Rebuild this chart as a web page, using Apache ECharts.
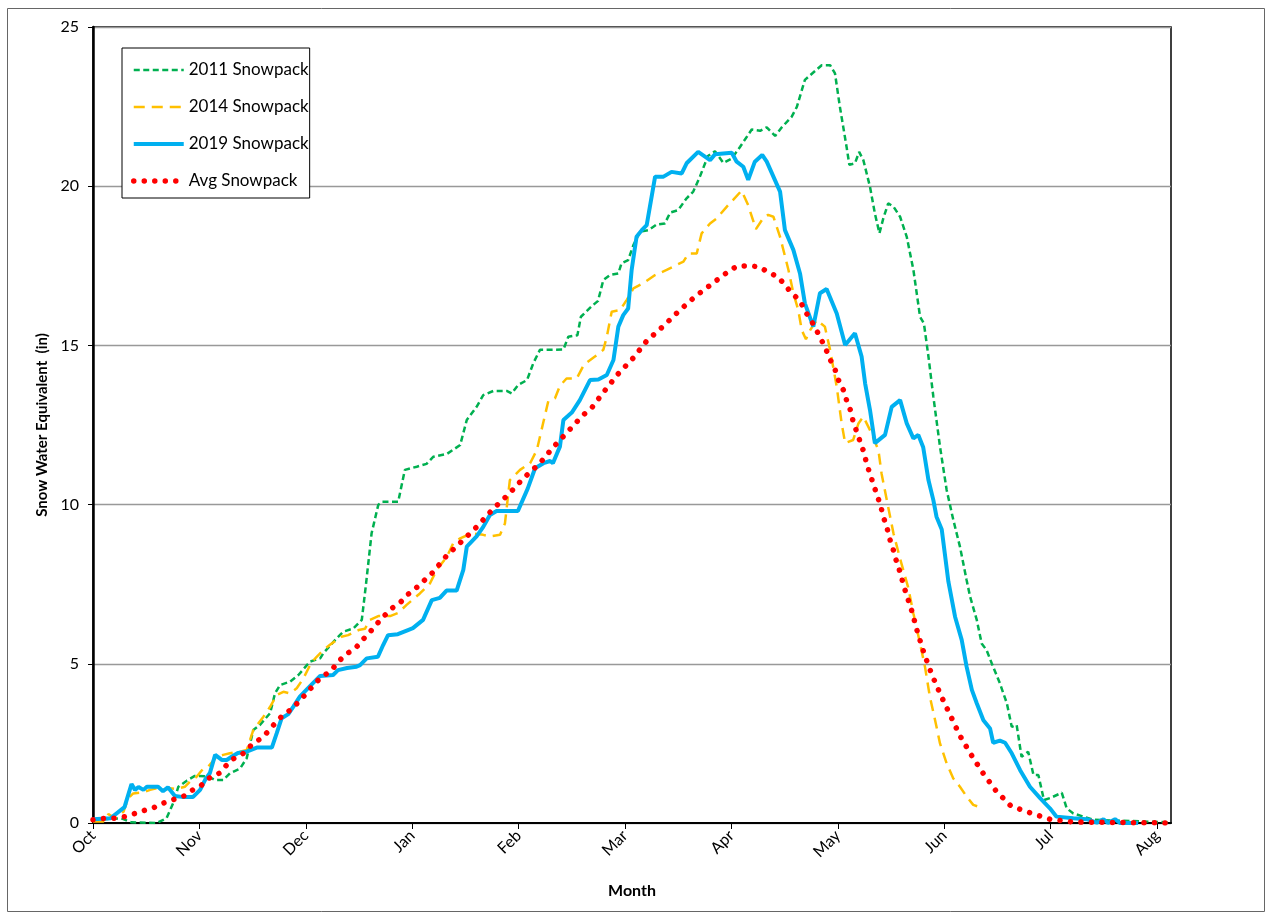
<!DOCTYPE html>
<html>
<head>
<meta charset="utf-8">
<script src="https://cdn.jsdelivr.net/npm/echarts@6/dist/echarts.min.js"></script>
<style>
  html, body { margin: 0; padding: 0; background: #fff; }
  #chart { width: 1266px; height: 915px; }
</style>
</head>
<body>
<div id="chart"></div>
<script>
// x = days since Oct 1, y = snow water equivalent (in)
const monthLabels = ['Oct', 'Nov', 'Dec', 'Jan', 'Feb', 'Mar', 'Apr', 'May', 'Jun', 'Jul', 'Aug']
const MONTH_DAYS = 30.4

const snow2011 = [
  [0,0.1],[8,0.15],[11,0.02],[18.2,0],[21,0.15],[22.9,0.62],[24.4,1.14],[26.8,1.33],[29.1,1.48],
  [32.9,1.46],[34.9,1.35],[37.2,1.35],[39.1,1.56],[42,1.71],[43.9,2.03],[45.8,2.92],[47.7,3.08],
  [50.6,3.45],[52,4.07],[53.4,4.33],[56.3,4.44],[58.7,4.65],[62,5.07],[64.9,5.17],[65.8,5.33],
  [69.6,5.8],[71.5,6.01],[74.4,6.11],[76.8,6.38],[78,7.5],[79.6,9.1],[81.5,9.99],[82.5,10.09],
  [87.2,10.09],[89.1,11.09],[92.5,11.19],[95.3,11.28],[97.2,11.5],[101.1,11.59],[104.9,11.87],
  [106.8,12.66],[109.6,13.07],[111.5,13.44],[114.4,13.57],[118.2,13.57],[119.6,13.49],[121.5,13.76],
  [124,13.91],[125.8,14.44],[127.7,14.86],[134.4,14.87],[135.8,15.27],[138.4,15.32],[139.4,15.9],
  [142.4,16.22],[144.3,16.4],[145.8,17.05],[147.7,17.21],[150.1,17.26],[151,17.58],[152.9,17.68],
  [154.4,18.15],[156.3,18.57],[158.7,18.62],[161.1,18.8],[163.4,18.83],[164.9,19.17],[167.2,19.25],
  [169.6,19.62],[171.5,19.83],[173.4,20.3],[175.7,20.95],[177.7,21.1],[180.1,20.73],[182.5,20.87],
  [184.9,21.24],[188.2,21.78],[190.6,21.74],[192.5,21.85],[194.9,21.58],[196.8,21.85],[199.6,22.18],
  [201.1,22.49],[203.4,23.34],[205.8,23.57],[208.2,23.8],[210.6,23.8],[212,23.54],[213.4,22.49],
  [215.3,21.24],[216.1,20.67],[217.7,20.72],[218.9,21.08],[220.1,20.82],[222,19.98],[223.4,19.14],
  [224.7,18.52],[225.8,18.99],[227.2,19.46],[228.7,19.36],[230.6,19.04],[232.5,18.41],[234.4,17.37],
  [236.3,15.9],[237.4,15.69],[238.7,14.65],[240.1,13.39],[242,11.82],[243.9,10.46],[245.8,9.52],
  [247.7,8.68],[249.6,7.63],[250.6,7.11],[252.5,6.38],[253.9,5.64],[255.3,5.43],[256.8,5.01],
  [259.1,4.39],[261.1,3.76],[262.5,3.02],[263.9,3.08],[265.3,2.08],[267.2,2.24],[268.7,1.51],
  [270.1,1.51],[271.7,0.72],[273.4,0.78],[276.8,0.95],[278.2,0.46],[280.1,0.3],[283,0.2],
  [285.8,0.1],[308,0.02]
]

const snow2014 = [
  [0,0.05],[3,0.05],[4.4,0.28],[6.3,0.15],[8.7,0.35],[10.1,0.78],[11.5,0.93],[14.4,0.96],[16.3,1.04],
  [18.2,1.09],[20.6,1.04],[22,1.09],[23.9,1.07],[26.3,1.14],[27.7,1.3],[29.6,1.45],[31.5,1.71],
  [32.9,1.77],[35.3,2.08],[37.2,2.14],[39.1,2.19],[42,2.24],[43.9,2.29],[45.8,2.92],[48.7,3.34],
  [50.6,3.65],[52.5,4.02],[54.4,4.12],[56.3,4.07],[58.2,4.23],[60.1,4.54],[62.4,5.04],[63.9,5.22],
  [65.8,5.43],[67.7,5.6],[71,5.85],[72.9,5.9],[75.9,6.06],[77.7,6.1],[79.1,6.38],[81.5,6.5],
  [84.9,6.5],[87.2,6.6],[89.6,6.85],[93.4,7.21],[96.3,7.53],[98.2,7.95],[101.1,8.36],[102.9,8.78],
  [104.9,8.94],[108.2,9.1],[111.5,9.05],[113.4,9.0],[116.3,9.05],[117.7,9.41],[119.1,10.77],
  [122,11.09],[124.9,11.3],[126.8,11.71],[128.7,12.6],[130.1,13.26],[132,13.34],[133.4,13.73],
  [135.3,13.96],[138.2,13.96],[140.3,14.4],[143.4,14.65],[145.8,14.86],[146.8,15.27],[148.2,16.06],
  [150.6,16.11],[152.5,16.43],[154.4,16.79],[157.2,16.95],[160.6,17.21],[163.9,17.37],[166.8,17.53],
  [168.7,17.63],[170.1,17.89],[172.5,17.89],[173.9,18.52],[176.3,18.83],[178.2,18.99],[181.1,19.36],
  [182.9,19.57],[185.3,19.86],[187.2,19.4],[189.4,18.65],[191.5,19.0],[192.9,19.1],[194.4,19.04],
  [196.3,18.41],[198.7,17.37],[200.1,16.64],[201.5,16.11],[202.5,15.48],[203.7,15.19],[204.9,15.48],
  [206.8,15.8],[209.1,15.59],[210.6,14.86],[212.5,13.7],[213.9,12.55],[214.9,11.93],[217.2,12.03],
  [218.7,12.55],[220.1,12.76],[222,12.34],[224.4,11.71],[225.3,10.98],[226.8,10.14],[228.7,9.1],
  [230.6,8.3],[232.9,7.4],[234.4,6.58],[236.3,5.64],[237.7,4.91],[239.1,3.97],[240.6,3.23],
  [242,2.5],[243.9,1.87],[245.8,1.4],[247.7,1.14],[249.6,0.83],[251.5,0.57],[254.4,0.46]
]

const snow2019 = [
  [0,0.12],[5,0.15],[9,0.5],[11,1.22],[12,1.04],[13,1.13],[14.4,1.04],[15.4,1.14],[18.6,1.14],
  [20,1.0],[21.4,1.12],[23.4,0.85],[25.4,0.82],[28.6,0.82],[30.6,1.04],[32,1.35],[33.4,1.57],
  [34.9,2.14],[36.8,1.98],[38.2,1.98],[39.6,2.08],[41.4,2.2],[43.9,2.24],[46.8,2.37],[51.1,2.37],
  [52.5,2.82],[53.9,3.29],[55.8,3.42],[57.2,3.65],[59.1,3.97],[62,4.3],[64.9,4.62],[68.6,4.65],
  [70,4.8],[72.6,4.87],[75.3,4.91],[76.3,4.96],[78.2,5.17],[81.4,5.22],[82.9,5.59],[84.3,5.9],
  [87.1,5.93],[90,6.06],[91.4,6.12],[94.3,6.38],[96.8,7.0],[99.1,7.07],[101,7.3],[103.9,7.3],
  [105.8,7.95],[106.8,8.68],[109.6,9.0],[111.5,9.3],[113.4,9.67],[115.3,9.8],[121.4,9.8],
  [124.2,10.5],[126.3,11.14],[128.7,11.3],[130.6,11.37],[131.4,11.3],[133.4,11.82],[134.4,12.66],
  [136.8,12.89],[139.1,13.28],[142,13.91],[144.4,13.93],[146.8,14.07],[148.7,14.54],[150.1,15.59],
  [151.5,15.95],[152.9,16.16],[153.9,17.37],[155.3,18.41],[156.8,18.62],[158.2,18.78],[160.6,20.3],
  [163,20.3],[165.3,20.45],[168.2,20.4],[169.6,20.72],[172.9,21.08],[176.3,20.82],[177.7,21.0],
  [182.5,21.05],[183.9,20.77],[185.8,20.61],[187.2,20.2],[189.1,20.77],[191.2,20.98],[192.5,20.77],
  [196.3,19.83],[197.7,18.62],[200.1,18.0],[202,17.26],[203.4,16.32],[205.8,15.59],[207.7,16.64],
  [209.6,16.77],[212.5,16.0],[214.9,15.01],[217.7,15.38],[219.6,14.65],[220.6,13.81],[222,12.97],
  [223.4,11.93],[226.3,12.19],[228.2,13.07],[230.6,13.28],[232.5,12.55],[234.4,12.08],[235.8,12.19],
  [237.2,11.8],[238.7,10.77],[240.1,10.14],[241,9.62],[242.5,9.22],[244.4,7.58],[246.3,6.48],
  [248.2,5.75],[249.6,4.91],[251.1,4.18],[252.5,3.76],[254.4,3.23],[256.3,2.97],[257.2,2.52],
  [259.1,2.59],[260.6,2.52],[262.5,2.19],[264.9,1.66],[267.7,1.14],[270.6,0.78],[273.4,0.46],
  [275.3,0.2],[280.1,0.15],[283.9,0.12],[286.8,0.01],[288.7,0.12],[290,0],[292,0.12],[293.4,0],
  [298.6,0]
]

const snowAvg = [
  [0,0.1],[3,0.14],[6,0.15],[9,0.2],[12,0.3],[15,0.41],[17.5,0.49],[20,0.62],[23,0.74],[26,0.85],
  [28,1.01],[31,1.19],[33,1.4],[36,1.56],[38,1.8],[40,2.01],[43,2.19],[45,2.42],[48,2.66],[50,2.87],
  [52,3.13],[54,3.36],[57,3.6],[59,3.84],[61,4.07],[63,4.33],[65,4.56],[68,4.78],[70,5.05],[72,5.28],
  [75,5.49],[77,5.75],[79,5.98],[81,6.24],[83,6.48],[85,6.71],[88,6.95],[90,7.18],[92.5,7.4],
  [97,7.86],[101,8.39],[105.6,8.87],[110,9.34],[114,9.83],[118.7,10.32],[123,10.83],[127.5,11.28],
  [131.5,11.8],[135.8,12.31],[140,12.81],[142.5,13.04],[146,13.55],[150,14.1],[154.4,14.61],
  [158.2,15.14],[163,15.61],[167.4,16.08],[172,16.53],[176.8,16.93],[181.5,17.32],[184,17.49],
  [187,17.5],[190.4,17.47],[193,17.29],[195.6,17.16],[197.7,16.9],[199.6,16.64],[202,16.41],
  [203.4,16.08],[205,15.82],[206.6,15.5],[208,15.2],[209.4,14.88],[210.6,14.56],[212,14.25],
  [213,13.91],[214.4,13.6],[215.3,13.28],[216.5,12.94],[217.2,12.6],[218.2,12.29],[219.3,11.94],
  [220.3,11.63],[221,11.3],[222,10.96],[223,10.63],[224,10.3],[225,9.98],[225.8,9.62],[226.8,9.3],
  [227.5,8.97],[228.5,8.64],[229.3,8.31],[230.3,7.98],[232,7.32],[234,6.64],[235.6,5.98],
  [237.5,5.31],[239.6,4.68],[242.2,4.02],[245,3.37],[247.7,2.74],[250.8,2.16],[254.2,1.58],
  [258,1.01],[262.3,0.53],[267.7,0.32],[273.4,0.12],[280,0.03],[308,0]
]

const FONT = 'Lato'

const STYLES = {
  '2011 Snowpack': { color: '#00B050', width: 2.5, type: [6, 3.5], cap: 'butt' },
  '2014 Snowpack': { color: '#FFC000', width: 2.5, type: [11, 7], cap: 'butt' },
  '2019 Snowpack': { color: '#00B0F0', width: 4, type: 'solid', cap: 'butt' },
  'Avg Snowpack':  { color: '#FF0000', width: 5.5, type: [0.01, 10.5], cap: 'round' }
}

const chart = echarts.init(document.getElementById('chart'))

function lineSeries(name, data) {
  const s = STYLES[name]
  return {
    name,
    type: 'line',
    data,
    symbol: 'none',
    lineStyle: { color: s.color, width: s.width, type: s.type, cap: s.cap },
    itemStyle: { color: s.color },
    emphasis: { disabled: true }
  }
}

const legendNames = ['2011 Snowpack', '2014 Snowpack', '2019 Snowpack', 'Avg Snowpack']

chart.setOption({
  animation: false,
  textStyle: { fontFamily: FONT, color: '#000' },
  grid: { left: 93, right: 95, top: 27, bottom: 92, show: true, borderColor: '#000', borderWidth: 1.5 },
  legend: {
    left: 122,
    top: 48,
    orient: 'vertical',
    padding: [12, 1, 7, 9],
    itemWidth: 50,
    itemHeight: 20,
    itemGap: 17,
    borderColor: '#000',
    borderWidth: 1,
    backgroundColor: '#fff',
    itemStyle: { opacity: 0 },
    textStyle: { fontFamily: FONT, fontSize: 17, color: '#000', lineHeight: 20 },
    data: legendNames.map(n => ({
      name: n,
      lineStyle: { width: STYLES[n].width, type: STYLES[n].type, cap: STYLES[n].cap, color: STYLES[n].color }
    }))
  },
  xAxis: {
    type: 'value',
    min: 0,
    max: 308,
    interval: MONTH_DAYS,
    name: 'Month',
    nameLocation: 'middle',
    nameGap: 60,
    nameTextStyle: { fontFamily: FONT, fontSize: 16, fontWeight: 'bold', color: '#000' },
    axisLine: { lineStyle: { color: '#000', width: 2 } },
    axisTick: { show: true, length: 6, lineStyle: { color: '#000' } },
    splitLine: { show: false },
    axisLabel: {
      rotate: 45,
      fontSize: 16,
      color: '#000',
      margin: 10,
      showMaxLabel: false,
      formatter: v => {
        const i = Math.round(v / MONTH_DAYS)
        return Math.abs(v - i * MONTH_DAYS) < 0.5 ? (monthLabels[i] || '') : ''
      }
    }
  },
  yAxis: {
    type: 'value',
    min: 0,
    max: 25,
    interval: 5,
    name: 'Snow Water Equivalent  (in)',
    nameLocation: 'middle',
    nameGap: 40,
    nameTextStyle: { fontFamily: FONT, fontSize: 15, fontWeight: 'bold', color: '#000' },
    axisLine: { show: true, lineStyle: { color: '#000', width: 2.5 } },
    axisTick: { show: true, length: 5, lineStyle: { color: '#000' } },
    axisLabel: { fontSize: 16, color: '#000', margin: 14 },
    splitLine: { show: true, lineStyle: { color: '#999', width: 1.3 } }
  },
  series: [
    lineSeries('2011 Snowpack', snow2011),
    lineSeries('2014 Snowpack', snow2014),
    lineSeries('2019 Snowpack', snow2019),
    lineSeries('Avg Snowpack', snowAvg)
  ],
  graphic: [{
    type: 'rect',
    shape: { x: 7.5, y: 8.5, width: 1257, height: 903 },
    style: { fill: 'none', stroke: '#666', lineWidth: 1 },
    silent: true,
    z: -1
  }]
})

window.addEventListener('resize', () => chart.resize())
</script>
</body>
</html>
